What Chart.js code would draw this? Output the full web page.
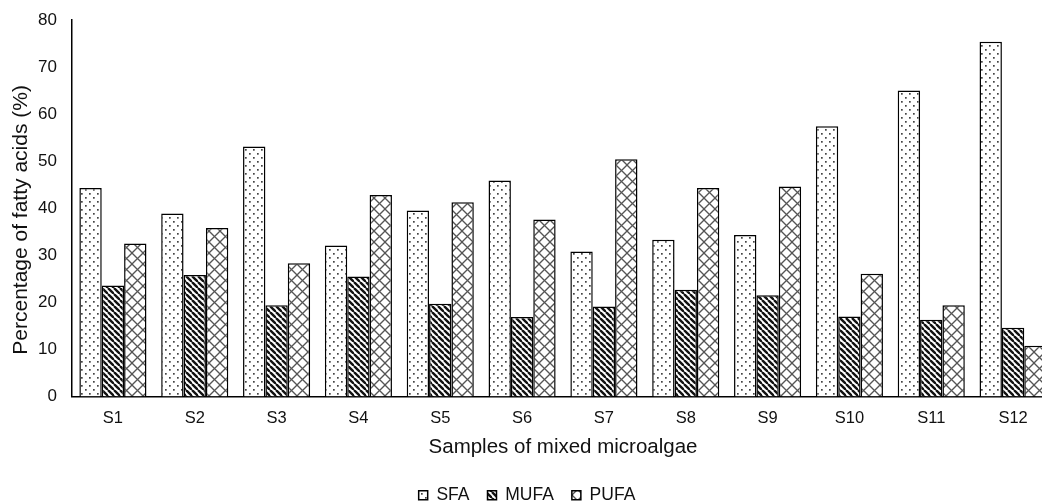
<!DOCTYPE html>
<html>
<head>
<meta charset="utf-8">
<script src="https://cdn.jsdelivr.net/npm/chart.js@4.4.1/dist/chart.umd.min.js"></script>
<style>
  html, body { margin: 0; padding: 0; background: #fff; overflow: hidden; width: 1042px; height: 504px; }
  #wrap { position: absolute; left: 0; top: 0; }
</style>
</head>
<body>
<div id="wrap"><canvas id="chart" width="1056" height="514"></canvas></div>
<script>
// Samples and fatty acid percentages
const samples = ["S1", "S2", "S3", "S4", "S5", "S6", "S7", "S8", "S9", "S10", "S11", "S12"];
const sfa  = [44.3, 38.9, 53.1, 32.1, 39.5, 45.9, 30.8, 33.3, 34.3, 57.4, 65.0, 75.4];
const mufa = [23.6, 25.8, 19.4, 25.5, 19.7, 16.9, 19.1, 22.7, 21.5, 17.0, 16.3, 14.6];
const pufa = [32.5, 35.8, 28.3, 42.8, 41.3, 37.6, 50.4, 44.3, 44.6, 26.1, 19.4, 10.8];
const yMin = 0, yMax = 80, yStep = 10;

const FONT = "'Liberation Sans', Arial, sans-serif";

// pattern fills
function makeTile(size, draw) {
    const c = document.createElement("canvas");
    c.width = size; c.height = size;
    const g = c.getContext("2d");
    g.fillStyle = "#fff";
    g.fillRect(0, 0, size, size);
    draw(g, size);
    return document.getElementById("chart").getContext("2d").createPattern(c, "repeat");
}

const dots = makeTile(8, (g) => {
    g.fillStyle = "#444";
    g.fillRect(1, 1, 1.7, 1.7);
    g.fillRect(5, 5, 1.7, 1.7);
});

const stripes = makeTile(6, (g, s) => {
    g.strokeStyle = "#111";
    g.lineWidth = 2.4;
    for (let o = -s; o <= s; o += s) {
        g.beginPath();
        g.moveTo(o, 0);
        g.lineTo(o + s, s);
        g.stroke();
    }
});

const cross = makeTile(11, (g, s) => {
    g.strokeStyle = "#555";
    g.lineWidth = 1.3;
    for (let o = -s; o <= s; o += s) {
        g.beginPath(); g.moveTo(o, 0); g.lineTo(o + s, s); g.stroke();
        g.beginPath(); g.moveTo(o, s); g.lineTo(o + s, 0); g.stroke();
    }
});

function ds(label, data, fill) {
    return {
        label: label,
        data: data,
        backgroundColor: fill,
        borderColor: "#000",
        borderWidth: 1.5,
        borderSkipped: "bottom"
    };
}

new Chart(document.getElementById("chart"), {
    type: "bar",
    data: {
        labels: samples,
        datasets: [ds("SFA", sfa, dots), ds("MUFA", mufa, stripes), ds("PUFA", pufa, cross)]
    },
    options: {
        responsive: false,
        animation: false,
        layout: { padding: { top: 20, left: 0, right: 2, bottom: 0 } },
        datasets: { bar: { categoryPercentage: 0.82, barPercentage: 1.0 } },
        scales: {
            x: {
                grid: { display: false, drawTicks: false },
                border: { color: "#000", width: 1.5 },
                ticks: { color: "#111", padding: 12, font: { family: FONT, size: 16.5 } },
                title: {
                    display: true,
                    text: "Samples of mixed microalgae",
                    color: "#111",
                    font: { family: FONT, size: 20.5 },
                    padding: { top: 0, bottom: 9 }
                },
                afterFit: (scale) => { scale.height = 72; }
            },
            y: {
                min: yMin,
                max: yMax,
                grid: { display: false, drawTicks: false },
                border: { color: "#000", width: 1.5 },
                ticks: { stepSize: yStep, color: "#111", padding: 15, font: { family: FONT, size: 17 } },
                title: {
                    display: true,
                    text: "Percentage of fatty acids (%)\u00a0\u00a0\u00a0\u00a0",
                    color: "#111",
                    font: { family: FONT, size: 21 },
                    padding: { top: 9, bottom: 0 }
                },
                afterFit: (scale) => {
                    scale.width = 72;
                    scale.paddingTop = 0;
                    scale.paddingBottom = 0;
                }
            }
        },
        plugins: {
            tooltip: { enabled: false },
            legend: {
                position: "bottom",
                labels: {
                    boxWidth: 9,
                    boxHeight: 9,
                    padding: 18,
                    color: "#111",
                    font: { family: FONT, size: 17.5 }
                }
            }
        }
    }
});
</script>
</body>
</html>
